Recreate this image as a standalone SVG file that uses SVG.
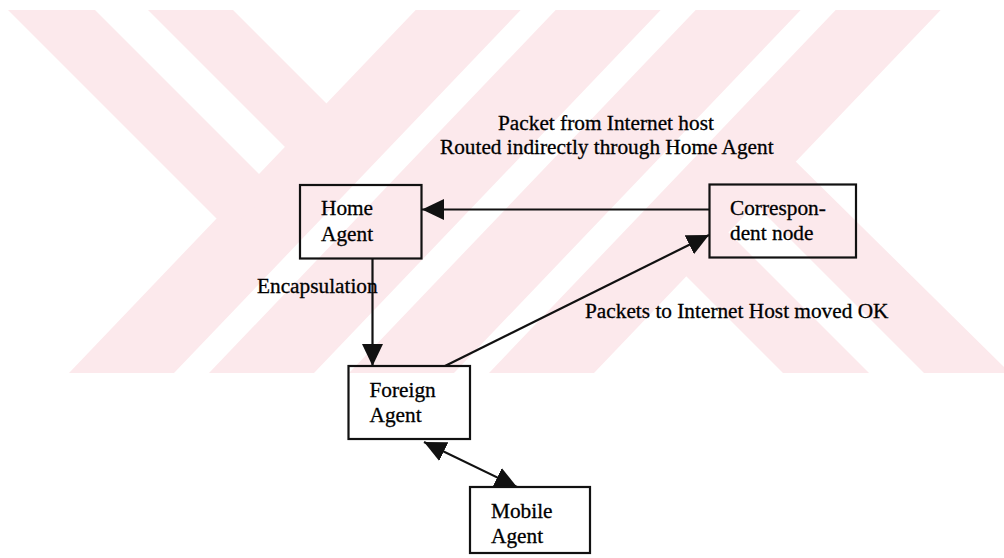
<svg xmlns="http://www.w3.org/2000/svg" width="1004" height="558" viewBox="0 0 1004 558">
  <style>
    .wm { fill: #fce9ec; stroke: none; }
    .box { fill: none; stroke: #111; stroke-width: 2.2; }
    .lbl { font-family: "Liberation Serif", "Times New Roman", serif; font-size: 21.3px; fill: #000; stroke: #000; stroke-width: 0.3; }
    .edge { stroke: #111; stroke-width: 2.2; fill: none; }
  </style>
  <defs>
    <marker id="arrow" markerUnits="userSpaceOnUse" markerWidth="23" markerHeight="23" viewBox="0 0 23 23" refX="22" refY="11.5" orient="auto-start-reverse">
      <path d="M0,1 L22,11.5 L0,22 Z" fill="#111"/>
    </marker>
    <clipPath id="band"><rect x="0" y="10" width="1004" height="363"/></clipPath>
  </defs>

  <rect width="1004" height="558" fill="#ffffff"/>

  <!-- background chevron stripes -->
  <g id="watermark" clip-path="url(#band)">
    <polygon class="wm" points="69,373 174,373 520.7,10 415.7,10"/>
    <polygon class="wm" points="209,373 314,373 660.7,10 555.7,10"/>
    <polygon class="wm" points="349,373 454,373 800.7,10 695.7,10"/>
    <polygon class="wm" points="489,373 594,373 940.7,10 835.7,10"/>
    <polygon class="wm" points="8,10 95,10 275,190 228,230"/>
    <polygon class="wm" points="148,10 233,10 340,117 298,160"/>
    <polygon class="wm" points="670,260 711,215 869,373 783,373"/>
    <polygon class="wm" points="741,190 784,150 1010,373 924,373"/>
  </g>

  <g id="connectors">
    <line class="edge" x1="709" y1="209.5" x2="422" y2="209.5" marker-end="url(#arrow)"/>
    <line class="edge" x1="372.5" y1="259" x2="372.5" y2="366" marker-end="url(#arrow)"/>
    <line class="edge" x1="445" y1="366" x2="709" y2="235" stroke-width="2.6" marker-end="url(#arrow)"/>
    <line class="edge" x1="424" y1="442" x2="517" y2="487" stroke-width="2.6" marker-start="url(#arrow)" marker-end="url(#arrow)"/>
    <text class="lbl" x="498" y="130">Packet from Internet host</text>
    <text class="lbl" x="440" y="154">Routed indirectly through Home Agent</text>
    <text class="lbl" x="257" y="293">Encapsulation</text>
    <text class="lbl" x="585" y="318">Packets to Internet Host moved OK</text>
  </g>

  <g id="home-agent">
    <rect class="box" x="300" y="185" width="121.5" height="73.5"/>
    <text class="lbl" x="321" y="215">Home</text>
    <text class="lbl" x="321" y="241">Agent</text>
  </g>

  <g id="correspondent-node">
    <rect class="box" x="709.5" y="184.5" width="146.5" height="73"/>
    <text class="lbl" x="730" y="215">Correspon-</text>
    <text class="lbl" x="730" y="239.5">dent node</text>
  </g>

  <g id="foreign-agent">
    <rect class="box" x="348.5" y="366" width="121.5" height="73"/>
    <text class="lbl" x="369.5" y="397">Foreign</text>
    <text class="lbl" x="369.5" y="422">Agent</text>
  </g>

  <g id="mobile-agent">
    <rect class="box" x="470" y="487" width="120" height="66"/>
    <text class="lbl" x="491" y="518">Mobile</text>
    <text class="lbl" x="491" y="543">Agent</text>
  </g>
</svg>
